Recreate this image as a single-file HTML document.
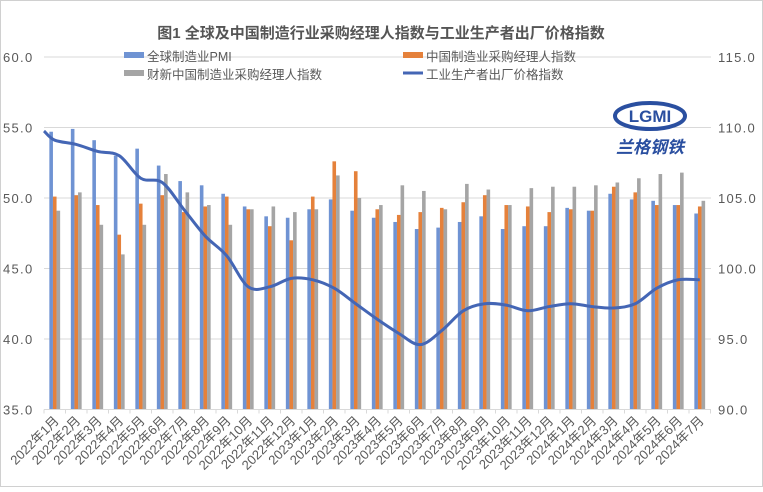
<!DOCTYPE html>
<html><head><meta charset="utf-8"><style>
body{margin:0;background:#fff}
svg text{font-family:"Liberation Sans","Noto Sans CJK SC",sans-serif}
</style></head><body>
<svg id="s" width="763" height="487" xmlns="http://www.w3.org/2000/svg">
<rect x="0.5" y="0.5" width="762" height="486" fill="#fff" stroke="#d0d0d0"/>
<text x="381" y="38" text-anchor="middle" font-size="15" font-weight="bold" fill="#555">图1 全球及中国制造行业采购经理人指数与工业生产者出厂价格指数</text>
</svg>
<script>
const s=document.getElementById('s');const NS='http://www.w3.org/2000/svg';
function el(t,a,txt){const e=document.createElementNS(NS,t);for(const k in a)e.setAttribute(k,a[k]);if(txt!==undefined)e.textContent=txt;s.appendChild(e);return e;}
const y0=57,py=14.1;const yL=v=>y0+(60-v)*py;const yR=v=>y0+(115-v)*py;
for(let i=0;i<6;i++){const y=y0+i*5*py;el('line',{x1:44,x2:711,y1:y,y2:y,stroke:'#d9d9d9','stroke-width':1});
el('text',{x:3,y:y+5,'font-size':13,fill:'#595959','letter-spacing':1.3},(60-i*5).toFixed(1));
el('text',{x:718,y:y+5,'font-size':13,fill:'#595959','letter-spacing':1.3},(115-i*5).toFixed(1));}
const B=[54.7,54.9,54.1,53.0,53.5,52.3,51.2,50.9,50.3,49.4,48.7,48.6,49.2,49.9,49.1,48.6,48.3,47.8,47.9,48.3,48.7,47.8,48.0,48.0,49.3,49.1,50.3,49.9,49.8,49.5,48.9];
const O=[50.1,50.2,49.5,47.4,49.6,50.2,49.0,49.4,50.1,49.2,48.0,47.0,50.1,52.6,51.9,49.2,48.8,49.0,49.3,49.7,50.2,49.5,49.4,49.0,49.2,49.1,50.8,50.4,49.5,49.5,49.4];
const G=[49.1,50.4,48.1,46.0,48.1,51.7,50.4,49.5,48.1,49.2,49.4,49.0,49.2,51.6,50.0,49.5,50.9,50.5,49.2,51.0,50.6,49.5,50.7,50.8,50.8,50.9,51.1,51.4,51.7,51.8,49.8];
const P=[109.1,108.8,108.3,108.0,106.4,106.1,104.2,102.3,100.9,98.7,98.7,99.3,99.2,98.6,97.5,96.4,95.4,94.6,95.6,97.0,97.5,97.4,97.0,97.3,97.5,97.3,97.2,97.5,98.6,99.2,99.2];
const cw=21.5,x0=44,bw=3.6;const yb=yL(35);
const labels=[];for(let y=2022;y<=2024;y++)for(let m=1;m<=12;m++){if(y==2024&&m>7)break;labels.push(y+'年'+m+'月');}
for(let i=0;i<31;i++){const c=x0+cw*(i+0.5);
[[B,'#6f93d3'],[O,'#e5813b'],[G,'#a5a5a5']].forEach((d,j)=>{const x=c-1.5*bw+j*bw;const yt=yL(d[0][i]);el('rect',{x:x,y:yt,width:bw,height:yb-yt,fill:d[1]});});
el('text',{x:0,y:0,'font-size':13,fill:'#595959','text-anchor':'end',transform:`translate(${c+5},${yb+12}) rotate(-45)`},labels[i]);}
el('line',{x1:44,x2:711,y1:yb,y2:yb,stroke:'#d9d9d9'});
for(let i=0;i<=31;i++){const x=x0+cw*i;el('line',{x1:x,x2:x,y1:yb,y2:yb+4,stroke:'#d9d9d9'});}
const pts=[[44,131]];for(let i=0;i<31;i++)pts.push([x0+cw*(i+0.5),yR(P[i])]);
let d='M'+pts[0][0]+','+pts[0][1];
for(let i=0;i<pts.length-1;i++){const p0=pts[Math.max(0,i-1)],p1=pts[i],p2=pts[i+1],p3=pts[Math.min(pts.length-1,i+2)];const t=1/6;
d+=` C${p1[0]+(p2[0]-p0[0])*t},${p1[1]+(p2[1]-p0[1])*t} ${p2[0]-(p3[0]-p1[0])*t},${p2[1]-(p3[1]-p1[1])*t} ${p2[0]},${p2[1]}`;}
el('path',{d:d,fill:'none',stroke:'#4466b5','stroke-width':3,'stroke-linejoin':'round'});
el('rect',{x:124,y:52,width:20,height:6,fill:'#6f93d3'});el('text',{x:147,y:61,'font-size':12.5,fill:'#595959'},'全球制造业PMI');
el('rect',{x:403,y:52,width:20,height:6,fill:'#e5813b'});el('text',{x:426,y:61,'font-size':12.5,fill:'#595959'},'中国制造业采购经理人指数');
el('rect',{x:124,y:70,width:20,height:6,fill:'#a5a5a5'});el('text',{x:147,y:79,'font-size':12.5,fill:'#595959'},'财新中国制造业采购经理人指数');
el('line',{x1:403,x2:423,y1:73,y2:73,stroke:'#4466b5','stroke-width':3});el('text',{x:426,y:79,'font-size':12.5,fill:'#595959'},'工业生产者出厂价格指数');
el('ellipse',{cx:650,cy:116,rx:35,ry:13,fill:'#fff',stroke:'#2a4fa0','stroke-width':4});
el('text',{x:650,y:122,'font-size':17,'font-weight':'bold','text-anchor':'middle',fill:'#2a4fa0'},'LGMI');
el('text',{x:650,y:153,'font-size':17,'font-weight':'bold','text-anchor':'middle',fill:'#2a4fa0','font-style':'italic'},'兰格钢铁');
</script>
</body></html>
